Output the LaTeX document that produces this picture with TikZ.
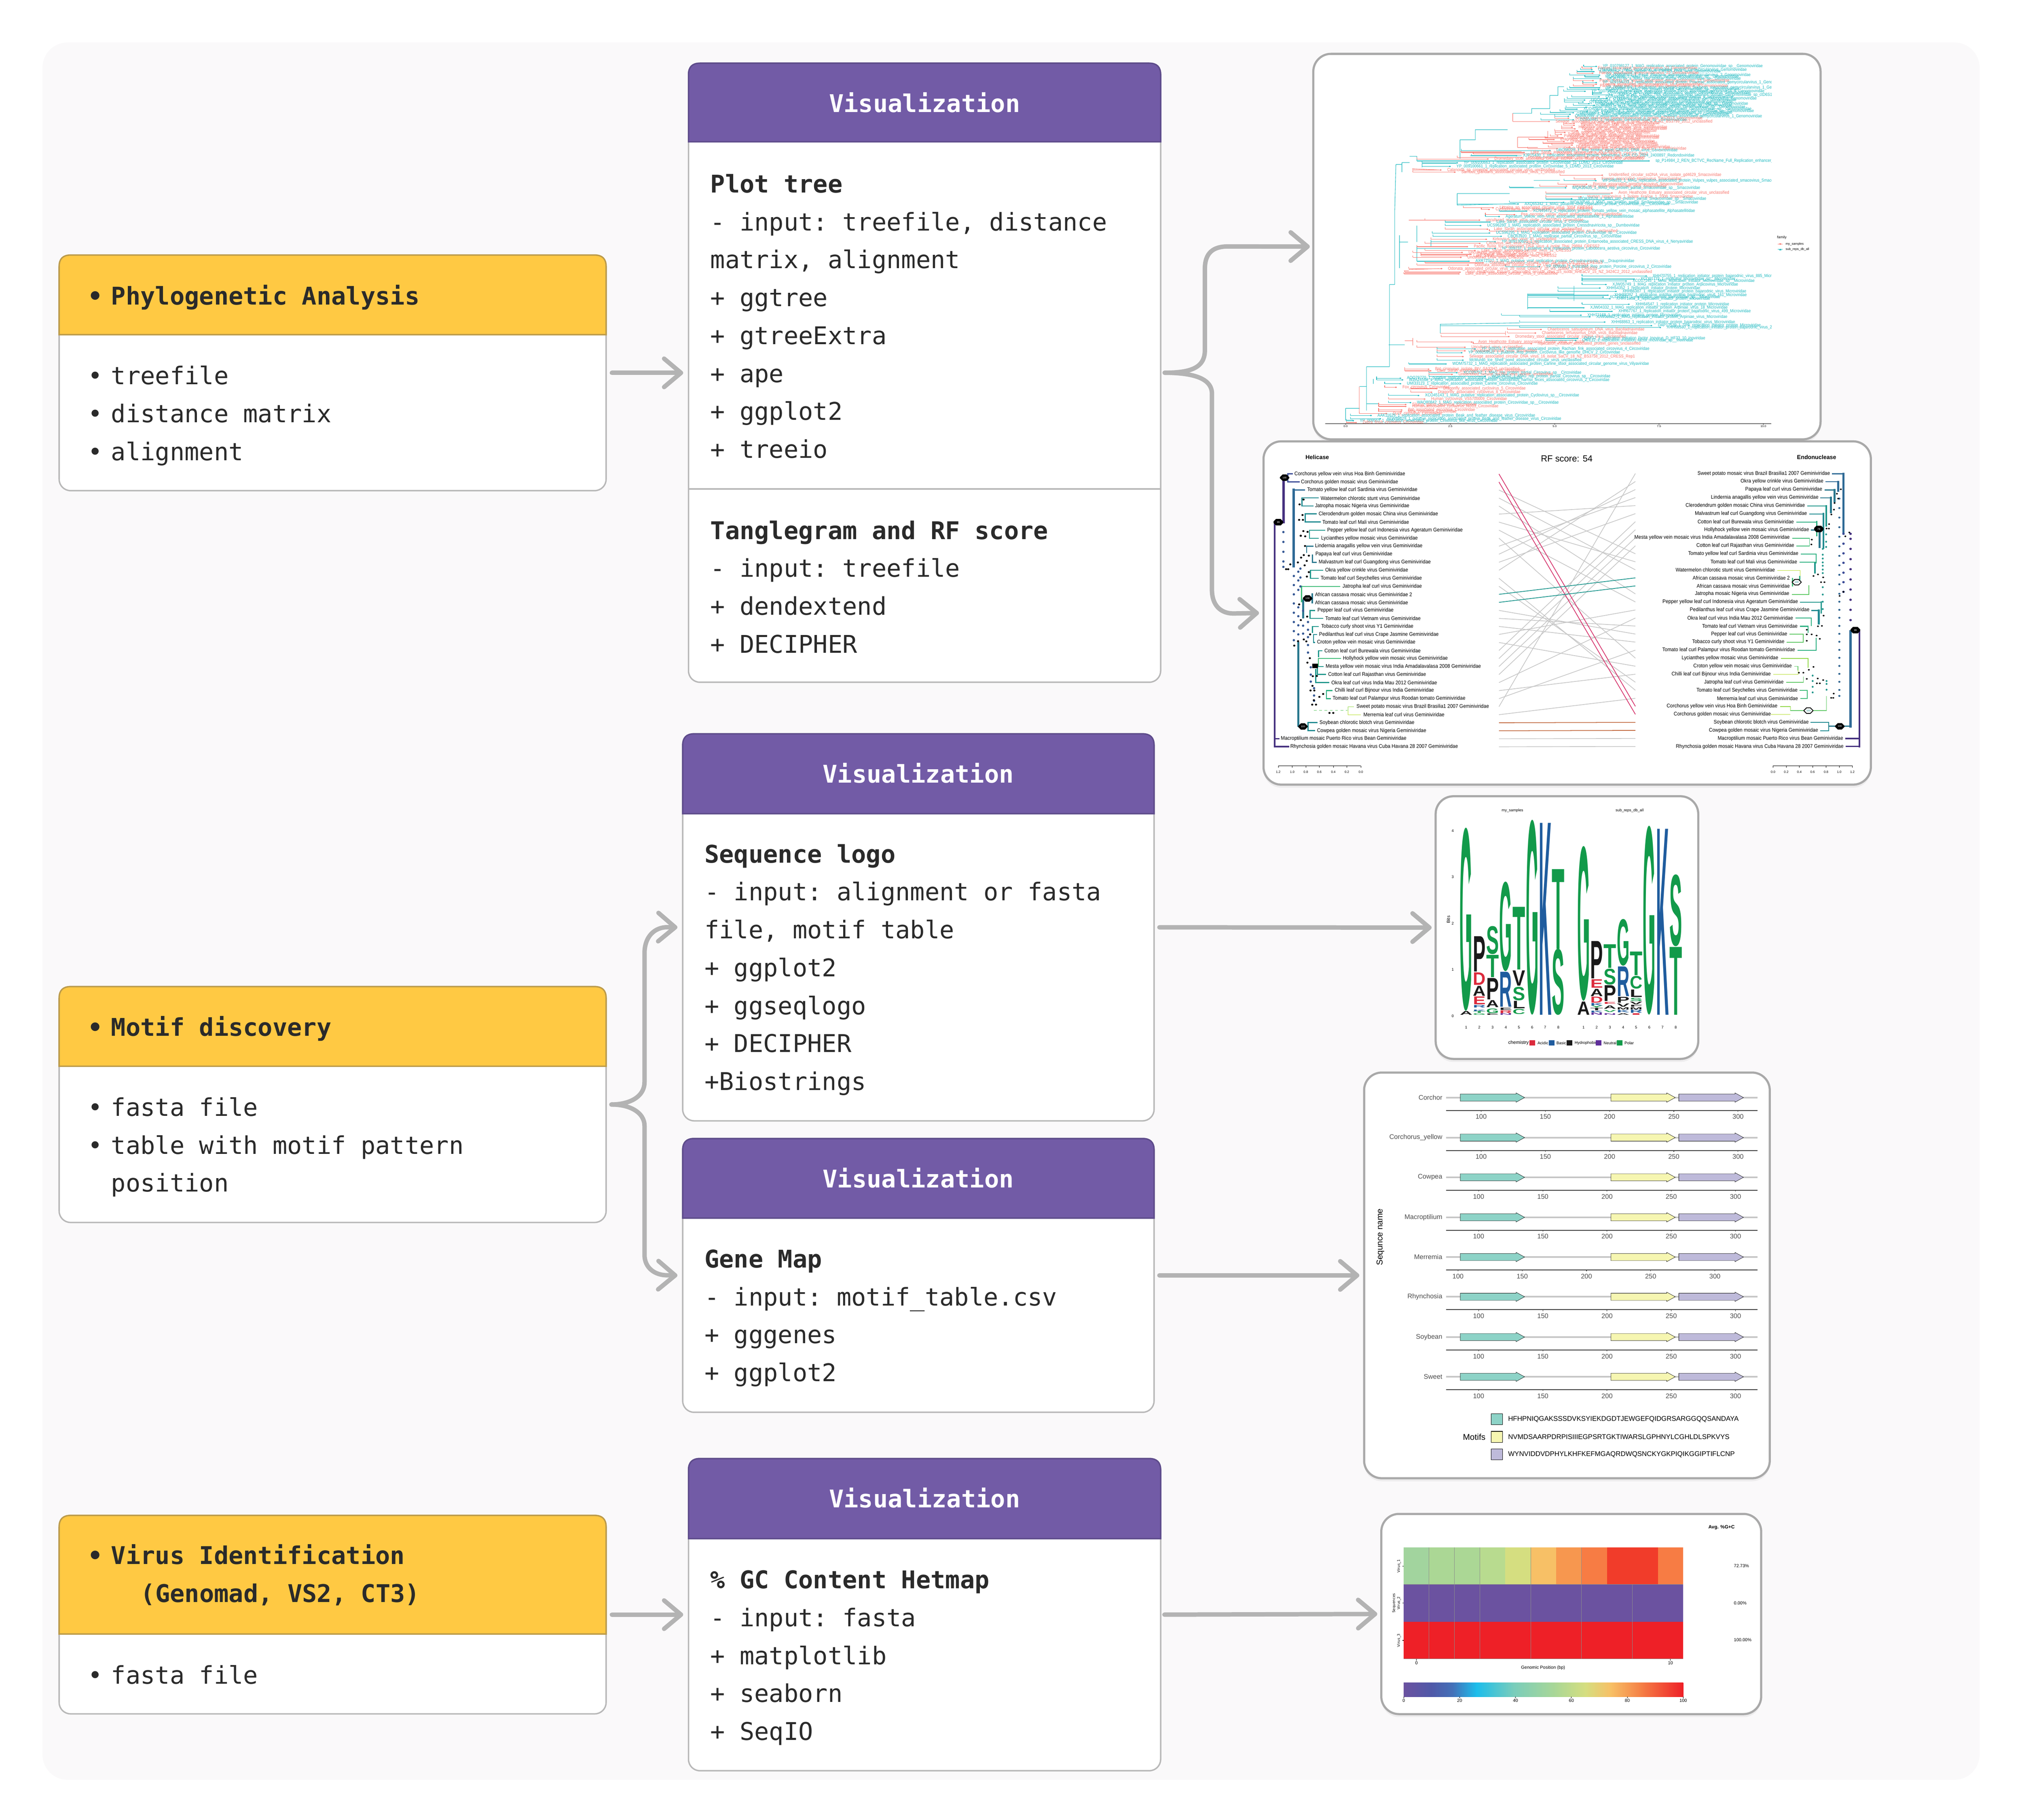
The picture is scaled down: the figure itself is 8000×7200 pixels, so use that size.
\documentclass[tikz,border=0pt]{standalone}
\usepackage{fontspec}
\usepackage{graphicx}
\setmonofont{DejaVu Sans Mono}
\setsansfont{Liberation Sans}
\newfontfamily\heatfont{DejaVu Sans}
\usetikzlibrary{arrows.meta,calc,shapes.misc}
\catcode`\_=12
\definecolor{panelbg}{HTML}{FAF9FA}
\definecolor{boxedge}{HTML}{B8B8B8}
\definecolor{cardedge}{HTML}{A9A9A9}
\definecolor{flowgrey}{HTML}{B3B3B3}
\definecolor{inkdark}{HTML}{2A2A2A}
\definecolor{headyellow}{HTML}{FFC943}
\definecolor{edgeyellow}{HTML}{BC9B4A}
\definecolor{headpurple}{HTML}{725BA6}
\definecolor{edgepurple}{HTML}{5E4C8B}
\definecolor{tt}{HTML}{1DB9C0}
\definecolor{tr}{HTML}{F8766D}
\definecolor{vp}{HTML}{45307F}
\definecolor{vn}{HTML}{3A4A96}
\definecolor{vb}{HTML}{2F6A96}
\definecolor{vm}{HTML}{2A788E}
\definecolor{vt}{HTML}{1F968B}
\definecolor{vq}{HTML}{1F8A90}
\definecolor{vg}{HTML}{29AF7F}
\definecolor{vh}{HTML}{3CBB75}
\definecolor{vl}{HTML}{5DC863}
\definecolor{vk}{HTML}{8FD744}
\definecolor{vy}{HTML}{B5DE2B}
\definecolor{linkgrey}{HTML}{C6C6C6}
\definecolor{linkpink}{HTML}{D6336C}
\definecolor{linkteal}{HTML}{1A958C}
\definecolor{linkrust}{HTML}{C0653A}
\definecolor{lr}{HTML}{DC2A3C}
\definecolor{lb}{HTML}{1F5C9E}
\definecolor{lk}{HTML}{1A1A1A}
\definecolor{ln}{HTML}{5E2D9A}
\definecolor{lg}{HTML}{129A4A}
\definecolor{geneteal}{HTML}{8DD3C7}
\definecolor{geneyellow}{HTML}{F6F6B1}
\definecolor{genepurple}{HTML}{BEBADA}
\definecolor{axisgrey}{HTML}{4D4D4D}
\definecolor{heatv}{HTML}{6B52A0}
\definecolor{heatr}{HTML}{EE2027}
\definecolor{barb}{HTML}{5059A8}
\definecolor{barc}{HTML}{4470B8}
\definecolor{bard}{HTML}{1CBDEB}
\definecolor{bare}{HTML}{79CDBB}
\definecolor{barf}{HTML}{ABD795}
\definecolor{barg}{HTML}{D5DE80}
\definecolor{barh}{HTML}{F7C066}
\definecolor{bari}{HTML}{F57F45}
\tikzset{
  flowarrow/.style={draw=flowgrey,line width=5pt,line cap=round,line join=round,
    -{Straight Barb[length=19pt,width=32pt,round]}},
  toolbox/.style={draw=boxedge,fill=white,line width=1.6pt,rounded corners=.45cm,inner sep=0pt,outer sep=0pt},
  imgcard/.style={draw=cardedge,fill=white,line width=2.4pt,rounded corners=.7cm,inner sep=0pt,outer sep=0pt,
    preaction={draw=none,fill=black,opacity=.05,transform canvas={yshift=-.12cm}}},
  yellowhead/.style={draw=edgeyellow,fill=headyellow,line width=1.6pt},
  purplehead/.style={draw=edgepurple,fill=headpurple,line width=1.6pt},
  codeline/.style={font=\ttfamily\fontsize{27.45}{30}\selectfont,text=inkdark,anchor=base west,inner sep=0pt},
  boldline/.style={codeline,font=\ttfamily\bfseries\fontsize{27.45}{30}\selectfont},
  headline/.style={font=\ttfamily\bfseries\fontsize{27.45}{30}\selectfont,anchor=base,inner sep=0pt,text=white},
  plottext/.style={font=\sffamily\fontsize{#1}{#1}\selectfont,inner sep=0pt},
  heattext/.style={font=\heatfont\fontsize{#1}{#1}\selectfont,inner sep=0pt},
  tw/.style={line width={#1*.0948pt}},
  hexblack/.style={chamfered rectangle,chamfered rectangle xsep=.07cm,chamfered rectangle ysep=.07cm,fill=black,draw=black,
    minimum width=.36cm,minimum height=.24cm,inner sep=0pt,text=white,font=\sffamily\fontsize{2.8}{2.8}\selectfont},
  hexwhite/.style={chamfered rectangle,chamfered rectangle xsep=.07cm,chamfered rectangle ysep=.07cm,fill=white,draw=black,line width=.9pt,
    minimum width=.36cm,minimum height=.22cm,inner sep=0pt,text=vq,font=\sffamily\fontsize{2.8}{2.8}\selectfont},
}
\newcommand{\cardbox}[6]{\node (#1) [#6,anchor=north west,minimum width={(#4-#2)*0.01cm},minimum height={(#5-#3)*0.01cm}] at (#2,#3) {};}
\newcommand{\headbar}[5]{\draw[#5] (#1,#4) -- (#1,#2+45) .. controls (#1,#2+15) and (#1+15,#2) .. (#1+45,#2) -- (#3-45,#2) .. controls (#3-15,#2) and (#3,#2+15) .. (#3,#2+45) -- (#3,#4) -- cycle;}
\newcommand{\blt}{\llap{•\hspace{9.4pt}}}
\newcommand{\genearrow}[4]{\filldraw[fill=#4,draw=black,line width=.3pt] (#1,#3-13) -- (#2-30,#3-13) -- (#2-30,#3-17) -- (#2,#3) -- (#2-30,#3+17) -- (#2-30,#3+13) -- (#1,#3+13) -- cycle;}
\begin{document}
\begin{tikzpicture}[x=.01cm,y=-.01cm]
  \useasboundingbox (0,0) rectangle (8000,7200);
  \fill[white] (0,0) rectangle (8000,7200);
  \fill[panelbg,rounded corners=1cm] (168,168) rectangle (7832,7041);

  % left boxes
  \cardbox{phylo}{234}{1009}{2398}{1941}{toolbox}
  \headbar{234}{1009}{2398}{1324}{yellowhead}
  \node (phylohead) [boldline] at (439,1205) {\blt Phylogenetic Analysis};
  \foreach \t [count=\i from 0] in {treefile,distance matrix,alignment}
    \node (phyloitem-\i) [codeline] at (439,{1521+\i*150}) {\blt\t};

  \cardbox{motif}{234}{3903}{2398}{4836}{toolbox}
  \headbar{234}{3903}{2398}{4218}{yellowhead}
  \node (motifhead) [boldline] at (439,4099) {\blt Motif discovery};
  \node (motifitem-0) [codeline] at (439,4415) {\blt fasta file};
  \node (motifitem-1) [codeline] at (439,4565) {\blt table with motif pattern};
  \node (motifitem-2) [codeline] at (439,4715) {position};

  \cardbox{virus}{234}{5995}{2398}{6780}{toolbox}
  \headbar{234}{5995}{2398}{6464}{yellowhead}
  \node (virushead-0) [boldline] at (439,6188) {\blt Virus Identification};
  \node (virushead-1) [boldline] at (556,6338) {(Genomad, VS2, CT3)};
  \node (virusitem) [codeline] at (439,6661) {\blt fasta file};

  % tool boxes
  \cardbox{plotbox}{2724}{250}{4592}{2699}{toolbox}
  \headbar{2724}{250}{4592}{561}{purplehead}
  \draw[draw=boxedge,line width=1.6pt] (2724,1934) -- (4592,1934);
  \node (plothead) [headline] at (3658,444) {Visualization};
  \foreach \t [count=\i from 0] in {\textbf{Plot tree},{- input: treefile, distance},{matrix, alignment},+ ggtree,+ gtreeExtra,+ ape,+ ggplot2,+ treeio}
    \node (plotline-\i) [codeline] at (2810,{762+\i*150}) {\t};
  \foreach \t [count=\i from 0] in {\textbf{Tanglegram and RF score},- input: treefile,+ dendextend,+ DECIPHER}
    \node (tangline-\i) [codeline] at (2810,{2133+\i*150}) {\t};

  \cardbox{logobox}{2701}{2903}{4566}{4434}{toolbox}
  \headbar{2701}{2903}{4566}{3219}{purplehead}
  \node (logohead) [headline] at (3633,3097) {Visualization};
  \foreach \t [count=\i from 0] in {\textbf{Sequence logo},- input: alignment or fasta,{file, motif table},+ ggplot2,+ ggseqlogo,+ DECIPHER,+Biostrings}
    \node (logoline-\i) [codeline] at (2787,{3413+\i*150}) {\t};

  \cardbox{genebox}{2701}{4504}{4566}{5587}{toolbox}
  \headbar{2701}{4504}{4566}{4819}{purplehead}
  \node (genehead) [headline] at (3633,4698) {Visualization};
  \foreach \t [count=\i from 0] in {\textbf{Gene Map},- input: motif_table.csv,+ gggenes,+ ggplot2}
    \node (geneline-\i) [codeline] at (2787,{5015+\i*150}) {\t};

  \cardbox{gcbox}{2724}{5770}{4592}{7005}{toolbox}
  \headbar{2724}{5770}{4592}{6087}{purplehead}
  \node (gchead) [headline] at (3658,5964) {Visualization};
  \foreach \t [count=\i from 0] in {\textbf{\% GC Content Hetmap},- input: fasta,+ matplotlib,+ seaborn,+ SeqIO}
    \node (gcline-\i) [codeline] at (2810,{6284+\i*150}) {\t};

  % picture cards
  \cardbox{treecard}{5196}{213}{7203}{1738}{imgcard}
  \cardbox{tanglecard}{4999}{1746}{7402}{3104}{imgcard}
  \cardbox{logocard}{5680}{3150}{6719}{4189}{imgcard}
  \cardbox{genecard}{5397}{4243}{7002}{5848}{imgcard}
  \cardbox{gccard}{5465}{5989}{6968}{6781}{imgcard}

  % connectors
  \draw[flowarrow] ($(phylo.east)+(23,0)$) -- ($(phylo.east -| plotbox.west)+(-21,0)$);
  \draw[flowarrow] ($(virus.east)+(23,0)$) -- ($(virus.east -| gcbox.west)+(-21,0)$);
  \draw[flowarrow] ($(logobox.east)+(21,0)$) -- ($(logocard.west)+(-16,0)$);
  \draw[flowarrow] ($(genebox.east)+(21,0)$) -- ($(genecard.west)+(-19,0)$);
  \draw[flowarrow] ($(gcbox.east)+(15,0)$) -- ($(gccard.west)+(-16,0)$);
  \draw[flowarrow] ($(plotbox.east)+(16,0)$) .. controls (4720,1475) and (4767,1450) .. (4767,1385) -- (4767,1064)
    .. controls (4767,1000) and (4800,975) .. (4858,975) -- ($(treecard.west)+(-14,0)$);
  \draw[flowarrow] ($(plotbox.east)+(16,0)$) .. controls (4730,1475) and (4795,1500) .. (4795,1558) -- (4795,2333)
    .. controls (4795,2395) and (4830,2427) .. (4880,2427) -- ($(tanglecard.west)+(-18,0)$);
  \draw[flowarrow] ($(motif.east)+(21,0)$) .. controls (2490,4369) and (2550,4340) .. (2550,4280) -- (2550,3771)
    .. controls (2550,3705) and (2590,3668) .. (2640,3668) -- ($(logobox.west)+(-21,0)$);
  \draw[flowarrow] ($(motif.east)+(21,0)$) .. controls (2490,4369) and (2550,4400) .. (2550,4454) -- (2550,4964)
    .. controls (2550,5015) and (2590,5045) .. (2640,5045) -- ($(genebox.west)+(-21,0)$);

  % tree plot
  \begin{scope}[shift={(5000,150)},xscale=1.594,yscale=1.084]
    \draw[black,line width=.35pt] (153,1407) -- (1260,1407);
    \foreach \tx/\tl [count=\i] in {203/0.0,463/2.5,722/5.0,981/7.5,1240/10.0}{
      \draw[black,line width=.3pt] (\tx,1407) -- (\tx,1411);
      \node (treetick-\i) [plottext=3.2] at (\tx,1418) {\tl};
    }
    \node (treefam) [plottext=4,anchor=west] at (1274,729) {family};
    \draw[tr,line width=.5pt] (1276,752) -- (1288,752);
    \fill[tr] (1282,752) circle[radius=2.5];
    \node (treefam-1) [plottext=3.6,anchor=west] at (1295,752) {my_samples};
    \draw[tt,line width=.5pt] (1276,772) -- (1288,772);
    \fill[tt] (1282,769) -- (1285,775) -- (1279,775) -- cycle;
    \node (treefam-2) [plottext=3.6,anchor=west] at (1295,772) {sub_reps_db_all};
    \clip (150,90) rectangle (1260,1407);
    \draw[tt,line width=.5pt] (203,1352) -- (203,1395) -- (222,1395) (203,1352) -- (238,1352) (238,1272) -- (255,1272)
      (255,1200) -- (255,1360) (255,1200) -- (312,1200) (272,1245) -- (272,1262) (255,1335) -- (285,1335)
      (312,900) -- (312,1200) (312,900) -- (325,900) (325,635) -- (325,900) (325,635) -- (328,462) (328,462) -- (343,462)
      (343,455) -- (343,490) (343,455) -- (362,455) (362,432) -- (380,432) (380,432) -- (380,449)
      (487,372) -- (487,440) (487,372) -- (525,372) -- (525,335) -- (605,335) (512,430) -- (640,430)
      (618,275) -- (665,275) -- (665,258) -- (710,258) -- (710,210) -- (730,210) -- (730,178) -- (745,178) (710,272) -- (750,272)
      (380,685) -- (380,745) (337,720) -- (337,840) (337,745) -- (358,745) (415,740) -- (415,760) (380,760) -- (380,815)
      (480,568) -- (480,610) (480,568) -- (610,568) (480,610) -- (625,605) (610,545) -- (670,545) (670,520) -- (735,520)
      (700,570) -- (860,570) (700,590) -- (880,590) (655,935) -- (655,990) (655,935) -- (770,935) (770,905) -- (770,960)
      (438,1045) -- (438,1078) (438,1045) -- (635,1040) (310,1120) -- (350,1120) (393,458) -- (393,472) (393,458) -- (478,458);
    \draw[tr,line width=.5pt] (237,1272) -- (237,1370) (618,275) -- (618,305) (487,415) -- (640,415) (630,362) -- (630,400)
      (630,400) -- (680,400) (630,362) -- (705,362) -- (705,340) (360,665) -- (530,665) (360,845) -- (435,842) (348,850) -- (360,850)
      (600,1070) -- (600,1085) (438,1078) -- (600,1078) (350,1105) -- (370,1105) (370,1095) -- (370,1122) (370,478) -- (435,482);
    \foreach \lx/\ly/\bs/\cc/\lt [count=\i] in {
841/104/794/tt/YP_010798127_1_MAG_replication_associated_protein_Genomoviridae_sp__Genomoviridae,
829/110/790/tr/Faeces_associated_gemycircularvirus_21_Genomoviridae,
830/116/786/tt/QTE03621_2_MAG_replication_associated_protein_Gemycircularvirus_Genomoviridae,
835/123/777/tt/UBQ66262_1_Rep_protein_finch_CRESS_DNA_virus_Genomoviridae,
832/129/777/tr/Faeces_associated_gemycircularvirus_22_Genomoviridae,
849/136/759/tt/YP_009506502_1_RepA_Pteropus_associated_gemycircularvirus_3_Genomoviridae,
847/142/797/tt/WQA29896_1_MAG_rep_protein_partial_Genomoviridae_sp__Genomoviridae,
852/149/768/tt/WQA29785_1_MAG_rep_protein_partial_Genomoviridae_sp__Genomoviridae,
833/156/768/tr/Pacific_flying_fox_faeces_associated_gemycircularvirus_13_Genomoviridae,
841/163/792/tt/YP_009164033_1_replication_associated_protein_Poaceae_associated_gemycircularvirus_1_Genomoviridae,
841/169/792/tr/Faeces_associated_gemycircularvirus_18_Genomoviridae,
834/175/768/tr/Pacific_flying_fox_faeces_associated_gemycircularvirus_4_Genomoviridae,
849/182/759/tt/YP_009819399_1_replication_associated_protein_Soybean_associated_gemycircularvirus_1_Genomoviridae,
847/188/753/tt/WQA29880_1_MAG_rep_protein_partial_Genomoviridae_sp__Genomoviridae,
813/195/744/tt/YP_010796072_1_replication_associated_protein_Finch_associated_genomovirus_6_Genomoviridae,
853/201/816/tt/QVW56468_2_MAG_replication_associated_protein_Gemykibivirus_Genomoviridae,
880/208/816/tt/AAF02148_1_MAG_TPA_Geminivirus_Rep_catalytic_domain_Genomoviridae_sp_ctD6S1_Genomoviridae,
848/215/764/tt/QGF19225_1_Rep_Tadarida_brasiliensis_gemykibivirus_1_Genomoviridae,
867/221/753/tt/QTE03623_2_MAG_replication_associated_protein_Gemykrogvirus_Genomoviridae,
812/227/746/tt/UGO47154_1_MAG_replication_associated_protein_Gemyvirus_sp__Genomoviridae,
808/234/746/tt/QTE28052_1_MAG_replication_associated_protein_Gemykolovirus_Genomoviridae,
823/240/781/tt/OXN75680_1_MAG_replication_associated_protein_Genomoviridae_sp__Genomoviridae,
836/246/768/tt/WWV21770_1_MAG_replicase_protein_Genomoviridae_sp__Genomoviridae,
816/253/750/tt/OXN77487_1_MAG_replication_associated_protein_Genomoviridae_sp__Genomoviridae,
793/260/748/tt/XCO47910_1_MAG_putative_replication_associated_protein_Genomoviridae_sp__Genomoviridae,
819/267/735/tt/YP_010788574_1_MAG_replication_associated_protein_Genomoviridae_sp__Genomoviridae,
784/273/711/tt/OXN75683_1_MAG_replication_associated_protein_Genomoviridae_sp__Genomoviridae,
776/279/687/tt/OXN75689_1_MAG_replication_associated_protein_Genomoviridae_sp__Genomoviridae,
772/286/722/tt/QNR80399_1_replication_associated_protein_Gila_monster_associated_gemycircularvirus_1_Genomoviridae,
772/293/722/tr/Sewage_associated_gemycircularvirus_4_isolate_BS3913_Genomoviridae,
784/299/688/tt/OZS00441_1_replication_Genomoviridae_sp__Genomoviridae,
724/305/618/tr/Sewage_associated_circular_DNA_virus_4_isolat_SaCV_4_NZ_BS3799_2012_unclassified,
786/312/744/tr/Jatropha_mosaic_Nigeria_virus_Geminiviridae,
786/319/744/tr/Tomato_leaf_curl_Mali_virus_Geminiviridae,
781/326/739/tr/Hollyhock_yellow_vein_mosaic_virus_Geminiviridae,
788/332/739/tr/Tomato_leaf_curl_Seychelles_virus_Geminiviridae,
794/339/722/tr/Solanum_yellow_vein_virus_Geminiviridae,
763/345/723/tr/Sida_golden_yellow_vein_virus_Geminiviridae,
754/352/723/tr/Tomato_leaf_distortion_virus_Geminiviridae,
745/358/711/tr/Passionfruit_severe_leaf_distortion_virus_Geminiviridae,
758/365/698/tr/Jacquemontia_mosaic_Yucatan_virus_Geminiviridae,
736/371/658/tr/Eragrostis_curvula_streak_virus_Geminiviridae,
761/378/704/tr/Dragonfly_associated_mastrevirus_Geminiviridae,
783/384/693/tr/Sugarcane_streak_virus_Natal_Geminiviridae,
781/391/715/tr/Paspalum_striate_mosaic_virus_Geminiviridae,
775/398/706/tr/Digitaria_didactyla_striate_mosaic_virus_Geminiviridae,
744/404/655/tr/French_bean_severe_leaf_curl_virus_isolate_FbSLCV_1_Geminiviridae,
726/411/490/tt/UBQ66228_1_Rep_protein_egret_GRESS_DNA_virus_Genomoviridae,
662/418/490/tr/Lake_Sarah_associated_circular_virus_45_CRESS6,
728/423/520/tr/Odonata_associated_circular_virus_8_CRESS_Rec2,
643/430/515/tt/XJP15430_1_replication_associated_protein_Vientovirus_USA_CO_2024_2400897_Redondoviridae,
656/437/480/tr/Porcine_serum_associated_circular_virus_isolate_BKG_unclassified,
572/442/380/tr/Dromedary_stool_associated_circular_ssDNA_virus_isolat_DeSCV_c1400_unclassified,
972/449/380/tt/sp_P14984_2_REN_BCTVC_RecName_Full_Replication_enhancer_Sp,
496/456/393/tt/YP_009100663_1_replication_associated_protein_Circoviridae_11_LDMD_2013_Circoviridae,
478/469/393/tt/YP_009100661_1_replication_associated_protein_Circoviridae_5_LDMD_2013_Circoviridae,
455/482/370/tr/Calanoida_sp_copepod_associated_circular_virus_unclassified,
490/490/370/tr/Sambus_glandaris_associated_circular_virus_1_unclassified,
856/501/735/tr/Unidentified_circular_ssDNA_virus_isolate_gd4629_Smacoviridae,
838/515/770/tr/Faeces_associated_smacovirus_Smacoviridae,
840/521/745/tt/WFS48533_1_MAG_replication_associated_protein_Vulpes_vulpes_associated_smacovirus_Smacoviridae,
817/534/730/tr/Porcine_associated_porprismacovirus_Smacoviridae,
767/541/685/tr/Porcine_stool_associated_circular_virus_Smacoviridae,
765/547/610/tt/WQA30435_1_MAG_rep_protein_partial_Smacoviridae_sp__Smacoviridae,
880/566/700/tr/Avon_Heathcote_Estuary_associated_circular_virus_unclassified,
803/580/700/tr/Human_smacovirus_1_isolate_France_1_2008_Smacoviridae,
780/587/700/tt/WQA30524_1_MAG_rep_protein_partial_Smacoviridae_sp__Smacoviridae,
760/600/610/tt/WQA30546_1_MAG_rep_protein_partial_Smacoviridae_sp__Smacoviridae,
647/606/480/tt/AXQ65342_1_MAG_putative_viral_replication_protein_Circoviridae_sp__Circoviridae,
585/620/495/tr/Littorina_sp_associated_circular_virus_3004_CRESS3,
575/626/540/tr/Cyclophragma_host_associated_circular_virus_CRESS3,
668/632/585/tt/XCN45472_1_replication_protein_Tomato_yellow_vein_mosaic_alphasatellite_Alphasatellitidae,
638/645/550/tr/Pea_necrotic_yellow_dwarf_alphasatellite_Alphasatellitidae,
600/652/550/tt/Ageratum_yellow_vein_virus_associated_alphasatellite_1_Alphasatellitidae,
551/665/400/tr/uncultured_marine_virus_clone_GOM03043_Circoviridae,
577/672/450/tt/Lake_Sarah_associated_circular_virus_2_Circoviridae,
554/685/450/tt/UCS96280_1_MAG_replication_associated_protein_Cressdnaviricota_sp__Dumboviridae,
571/698/450/tr/Lake_Sarah_associated_circular_virus_unclassified,
680/705/560/tr/Hypothetical_CRESS_virus_sp_B_unclassified,
576/712/418/tt/UCS96295_1_MAG_replication_associated_protein_Circoviridae_sp__Circoviridae,
605/724/420/tt/CBQ63920_1_MAG_replicase_partial_Circovirus_sp__Circoviridae,
568/735/415/tr/Kirkovirus_like_virus_41_unclassified,
590/744/415/tt/YP_009130601_1_replication_associated_protein_Entamoeba_associated_CRESS_DNA_virus_4_Nenyaviridae,
552/750/400/tr/Circovirus_like_virus_CRESS2,
521/762/380/tr/Pacific_flying_fox_associated_DNA_virus_4_isolat_Thai_29884_CRESS2,
590/769/380/tt/YP_009237_1_putative_viral_replication_protein_Labidocera_aestiva_circovirus_Circoviridae,
540/776/400/tr/Lake_Sarah_associated_circular_virus_12_CRESS3,
508/783/370/tr/Uncultured_marine_virus_CRESS3,
530/790/390/tr/Circovirus_like_circular_virus_12_CRESS3,
520/795/390/tr/Lake_Sarah_associated_circular_virus_CRESS2,
505/801/370/tr/Uncultured_DNA_virus_CRESS2,
525/815/380/tt/AXR72327_1_MAG_putative_viral_replication_protein_Cressdnaviricota_sp__Draupnirviridae,
560/821/400/tr/Odonata_associated_circular_virus_20_isolat_US_2012_CRESS3,
523/829/380/tr/Odonata_associated_circular_virus_10_US_71BD_5_12_CRESS3,
700/835/600/tt/YP_009000_1_truncated_Rep_protein_Porcine_circovirus_2_Circoviridae,
457/842/360/tr/Odonata_associated_circular_virus_20_isolat_OdasCV_20_US_1180D_5_12_CRESS3,
503/855/350/tr/Avon_Heathcote_Estuary_associated_circular_virus_15_isolat_AHEaCV_15_NZ_3424C2_2012_unclassified,
500/861/348/tr/Lake_Sarah_associated_circular_virus_3_unclassified,
965/869/790/tt/XHH70755_1_replication_initiator_protein_bajarodnic_virus_885_Microviridae,
935/880/790/tt/XCO01733_1_replicase_Microviridae_sp__Microviridae,
915/887/790/tt/XCO17145_1_MAG_replication_initiator_Microviridae_sp__Microviridae,
865/900/790/tt/XJW05749_1_MAG_replication_initiator_protein_Arpicovirus_Microviridae,
850/913/730/tt/XHH54352_1_replication_initiator_protein_Microviridae,
890/925/730/tt/XHH86387_1_replication_initiator_protein_bajarodnic_virus_Microviridae,
870/939/655/tt/XHH88387_1_replication_initiator_protein_bajarodnic_virus_161_Microviridae,
858/946/655/tt/XCO45921_1_replication_protein_Microviridae_sp__Microviridae,
875/952/730/tt/XHH71909_1_replication_initiator_protein_Microviridae,
922/972/790/tt/XHH64547_1_replication_initiator_protein_Microviridae,
810/985/655/tt/XJW04332_1_MAG_replication_initiator_protein_Arpiniae_virus_18_Microviridae,
880/998/710/tt/XHH67767_1_replication_initiator_protein_bajarodnic_virus_499_Microviridae,
803/1012/590/tt/XHH71168_1_replication_initiator_protein_Microviridae,
825/1018/635/tt/XJW06862_1_MAG_replication_initiator_protein_Arpiniae_virus_Microviridae,
862/1037/635/tt/XHH68863_1_replication_initiator_protein_bajarodnic_virus_Microviridae,
978/1050/438/tt/DAP17539_1_TPA_replication_initiator_protein_Microviridae,
1000/1057/635/tt/XHH65530_1_replication_initiator_protein_bajarodnic_virus_22,
704/1064/605/tr/Chaetoceros_salsugineum_DNA_virus_Bacilladnaviridae,
690/1077/605/tr/Chaetoceros_tenuissimus_DNA_virus_Bacilladnaviridae,
624/1090/440/tr/Dromedary_stool_associated_circular_ssDNA_virus_unclassified,
795/1097/700/tt/QAY17_1_replication_initiation_factor_Inovirus_D_HF33_10_Inoviridae,
790/1104/700/tt/QWE12_1_replication_initiation_factor_Inoviridae_sp__Inoviridae,
532/1110/380/tr/Avon_Heathcote_Estuary_associated_circular_virus_12_isolat,
680/1116/520/tr/replication_initiation_associated_protein_genes_unclassified,
515/1129/380/tr/Uncultured_virus_unclassified,
540/1135/430/tt/YP_009252_1_replication_associated_protein_Rachian_fink_associated_circovirus_4_Circoviridae,
515/1142/430/tr/Uncultured_circular_virus_unclassified,
507/1149/430/tt/YP_009259532_1_putative_Rep_protein_Circovirus_like_genome_DHCV_2_Circoviridae,
510/1163/430/tr/Sewage_associated_circular_DNA_virus_16_isolat_SaCV_18_NZ_BS3758_2012_CRESS_Rep1,
510/1176/430/tt/McMurdo_Ice_Shelf_pond_associated_circular_virus_unclassified,
468/1190/360/tt/WDM75732_1_MAG_replication_associated_protein_Canine_stool_associated_circular_genome_virus_Vilyaviridae,
425/1209/350/tr/Bat_circovirus_isolate_BtV_SA32H7_unclassified,
430/1215/350/tr/Lake_Sarah_associated_circular_virus_unclassified,
495/1222/410/tt/XCO29702_1_MAG_rep_protein_partial_Circovirus_sp__Circoviridae,
483/1228/410/tr/Unidentified_circular_ssDNA_virus_isolate_unclassified,
565/1235/410/tt/WQA29702_1_MAG_rep_protein_partial_Circovirus_sp__Circoviridae,
355/1242/280/tt/AOQ79770_1_putative_replication_associated_protein_Circoviridae,
360/1248/280/tt/WZA24568_1_MAG_replication_associated_protein_Sarcophilus_harrisii_feces_associated_circovirus_2_Circoviridae,
355/1262/300/tt/UMI33123_1_replication_associated_protein_Canine_circovirus_Circoviridae,
344/1275/300/tr/Fox_circovirus_Circoviridae,
445/1280/365/tr/Dragonfly_associated_cyclovirus_5_Circoviridae,
432/1293/365/tr/Dragonfly_associated_cyclovirus_8_Circoviridae,
400/1305/310/tt/XCO45143_1_MAG_putative_replication_associated_protein_Cyclovirus_sp__Circoviridae,
415/1318/310/tr/Human_cyclovirus_VS5700009_Circoviridae,
380/1331/310/tt/WAQ80842_1_MAG_replication_associated_protein_Circoviridae_sp__Circoviridae,
368/1338/285/tr/Silurus_glanis_circovirus_Circoviridae,
368/1345/285/tr/Human_associated_cyclovirus_NG13_Circoviridae,
358/1358/285/tr/Bat_associated_circovirus_Circoviridae,
357/1364/285/tr/Mink_circovirus_Circoviridae,
320/1371/237/tr/Duck_circovirus_Circoviridae,
282/1378/215/tt/AAK11629_1_replication_associated_protein_Beak_and_feather_disease_virus_Circoviridae,
305/1390/215/tt/AEW88629_1_putative_replication_associated_protein_Beak_and_feather_disease_virus_Circoviridae,
238/1397/205/tt/YP_009553_1_replication_associated_protein_Circovirus_like_virus_Circoviridae,
245/1404/205/tr/Zebra_finch_circovirus_Circoviridae%
    }{
      \draw[\cc,line width=.55pt] (\bs,\ly) -- (\lx-16,\ly) (\bs,\ly-6.5) -- (\bs,\ly);
      \fill[\cc] (\lx-16,\ly) circle[radius=2.2];
      \node (treelab-\i) [plottext=4.9,anchor=west,text=\cc] at (\lx,\ly) {\scalebox{.88}[1]{\lt}};
    }
  \end{scope}

  % tanglegram
  \begin{scope}[shift={(4950,1700)},xscale=1.626,yscale=.9567]
    \node (tanglehel) [plottext=6.5,font=\sffamily\bfseries\fontsize{6.5}{6.5}\selectfont] at (161,113) {Helicase};
    \node (tanglerf) [plottext=10] at (768,120) {RF score: 54};
    \node (tangleend) [plottext=6.5,font=\sffamily\bfseries\fontsize{6.5}{6.5}\selectfont] at (1376,113) {Endonuclease};
    \foreach \la/\ra in {3/11,4/13,5/16,6/5,7/12,8/17,9/24,10/4,11/3,12/6,13/2,14/28,15/27,18/21,19/20,20/22,21/18,22/25,23/7,24/8,25/9,26/10,27/19,28/26,29/23,30/1,31/29,34/34,35/35}
      \draw[linkgrey,line width=.75pt] (603,{183+(\la-1)*33.18}) -- (935,{181+(\ra-1)*33.2});
    \foreach \la/\ra/\cc in {1/30/linkpink,2/31/linkpink,16/14/linkteal,17/15/linkteal,32/32/linkrust,33/33/linkrust}
      \draw[\cc,line width=.8pt] (603,{183+(\la-1)*33.18}) -- (935,{181+(\ra-1)*33.2});
    \foreach \sx/\st [count=\i from 0] in {105/Corchorus yellow vein virus  Hoa Binh Geminiviridae,121/Corchorus golden mosaic virus Geminiviridae,136/Tomato yellow leaf curl Sardinia virus Geminiviridae,169/Watermelon chlorotic stunt virus Geminiviridae,155/Jatropha mosaic Nigeria virus Geminiviridae,164/Clerodendrum golden mosaic China virus Geminiviridae,173/Tomato leaf curl Mali virus Geminiviridae,185/Pepper yellow leaf curl Indonesia virus Ageratum Geminiviridae,170/Lycianthes yellow mosaic virus Geminiviridae,155/Lindernia anagallis yellow vein virus Geminiviridae,156/Papaya leaf curl virus Geminiviridae,164/Malvastrum leaf curl Guangdong virus Geminiviridae,180/Okra yellow crinkle virus Geminiviridae,169/Tomato leaf curl Seychelles virus Geminiviridae,222/Jatropha leaf curl virus Geminiviridae,155/African cassava mosaic virus Geminiviridae 2,155/African cassava mosaic virus Geminiviridae,161/Pepper leaf curl virus Geminiviridae,180/Tomato leaf curl Vietnam virus Geminiviridae,170/Tobacco curly shoot virus  Y1 Geminiviridae,165/Pedilanthus leaf curl virus Crape Jasmine Geminiviridae,160/Croton yellow vein mosaic virus Geminiviridae,178/Cotton leaf curl Burewala virus Geminiviridae,223/Hollyhock yellow vein mosaic virus Geminiviridae,181/Mesta yellow vein mosaic virus India Amadalavalasa 2008 Geminiviridae,187/Cotton leaf curl Rajasthan virus Geminiviridae,195/Okra leaf curl virus India Mau 2012 Geminiviridae,203/Chilli leaf curl Bijnour virus India Geminiviridae,198/Tomato leaf curl Palampur virus Roodan tomato Geminiviridae,256/Sweet potato mosaic virus  Brazil Brasilia1 2007 Geminiviridae,273/Merremia leaf curl virus Geminiviridae,166/Soybean chlorotic blotch virus Geminiviridae,160/Cowpea golden mosaic virus Nigeria Geminiviridae,72/Macroptilium mosaic Puerto Rico virus Bean Geminiviridae,95/Rhynchosia golden mosaic Havana virus Cuba Havana 28 2007 Geminiviridae}
      \node (helic-\i) [plottext=5.9,anchor=west] at (\sx,{183+\i*33.18}) {\scalebox{.92}[1]{\st}};
    \foreach \sx/\st [count=\i from 0] in {1409/Sweet potato mosaic virus  Brazil Brasilia1 2007 Geminiviridae,1393/Okra yellow crinkle virus Geminiviridae,1390/Papaya leaf curl virus Geminiviridae,1381/Lindernia anagallis yellow vein virus Geminiviridae,1348/Clerodendrum golden mosaic China virus Geminiviridae,1353/Malvastrum leaf curl Guangdong virus Geminiviridae,1321/Cotton leaf curl Burewala virus Geminiviridae,1358/Hollyhock yellow vein mosaic virus Geminiviridae,1311/Mesta yellow vein mosaic virus India Amadalavalasa 2008 Geminiviridae,1322/Cotton leaf curl Rajasthan virus Geminiviridae,1332/Tomato yellow leaf curl Sardinia virus Geminiviridae,1329/Tomato leaf curl Mali virus Geminiviridae,1275/Watermelon chlorotic stunt virus Geminiviridae,1311/African cassava mosaic virus Geminiviridae 2,1311/African cassava mosaic virus Geminiviridae,1310/Jatropha mosaic Nigeria virus Geminiviridae,1331/Pepper yellow leaf curl Indonesia virus Ageratum Geminiviridae,1359/Pedilanthus leaf curl virus Crape Jasmine Geminiviridae,1319/Okra leaf curl virus India Mau 2012 Geminiviridae,1330/Tomato leaf curl Vietnam virus Geminiviridae,1305/Pepper leaf curl virus Geminiviridae,1298/Tobacco curly shoot virus  Y1 Geminiviridae,1324/Tomato leaf curl Palampur virus Roodan tomato Geminiviridae,1283/Lycianthes yellow mosaic virus Geminiviridae,1316/Croton yellow vein mosaic virus Geminiviridae,1265/Chilli leaf curl Bijnour virus India Geminiviridae,1296/Jatropha leaf curl virus Geminiviridae,1330/Tomato leaf curl Seychelles virus Geminiviridae,1331/Merremia leaf curl virus Geminiviridae,1281/Corchorus yellow vein virus  Hoa Binh Geminiviridae,1265/Corchorus golden mosaic virus Geminiviridae,1357/Soybean chlorotic blotch virus Geminiviridae,1380/Cowpea golden mosaic virus Nigeria Geminiviridae,1441/Macroptilium mosaic Puerto Rico virus Bean Geminiviridae,1442/Rhynchosia golden mosaic Havana virus Cuba Havana 28 2007 Geminiviridae}
      \node (endon-\i) [plottext=5.9,anchor=east] at (\sx,{181+\i*33.2}) {\scalebox{.92}[1]{\st}};
    \draw[black,line width=.3pt] (66,1390) -- (267,1390) (1270,1390) -- (1463,1390);
    \foreach \tx/\tl [count=\i] in {66/1.2,100/1.0,133/0.8,166/0.6,200/0.4,233/0.2,267/0.0}{
      \draw[black,line width=.3pt] (\tx,1390) -- (\tx,1398);
      \node (heltick-\i) [plottext=3.6] at (\tx,1415) {\tl};
    }
    \foreach \tx/\tl [count=\i] in {1270/0.0,1302/0.2,1334/0.4,1366/0.6,1399/0.8,1431/1.0,1463/1.2}{
      \draw[black,line width=.3pt] (\tx,1390) -- (\tx,1398);
      \node (endtick-\i) [plottext=3.6] at (\tx,1415) {\tl};
    }
  \end{scope}

  % helicase tree
  \begin{scope}[shift={(5020,1850)},xscale=.3333,yscale=.7653]
    \draw[vp,tw=18] (70,282) -- (70,1442) -- (240,1442);
    \draw[vp,tw=18] (70,1401) -- (125,1401);
    \draw[vp,tw=32] (175,60) -- (175,288);
    \draw[vn,tw=14] (285,32) -- (225,32) -- (225,73) -- (365,73);
    \draw[vb,tw=14] (430,115) -- (295,115);
    \draw[vb,tw=28] (297,109) -- (297,515);
    \draw[vq,tw=12] (595,156) -- (393,156) -- (393,198) -- (530,198);
    \draw[vq,tw=12] (570,239) -- (432,239) -- (432,281) -- (615,281);
    \draw[vt,tw=12] (668,323) -- (483,323) -- (483,365) -- (595,365);
    \draw[vm,tw=12] (530,406) -- (448,406) -- (448,440);
    \draw[vm,tw=14] (520,448) -- (520,489) -- (570,489);
    \draw[vt,tw=12] (645,531) -- (495,531) -- (495,572) -- (595,572);
    \draw[vh,tw=10] (845,614) -- (388,614);
    \draw[vh,tw=16] (388,610) -- (388,695);
    \draw[vm,tw=22] (515,650) -- (515,702);
    \draw[vm,tw=22] (408,680) -- (408,780);
    \draw[vt,tw=12] (550,738) -- (490,738) -- (490,779) -- (645,779);
    \draw[vt,tw=12] (595,821) -- (518,821) -- (518,855);
    \draw[vq,tw=12] (575,863) -- (530,863) -- (530,904) -- (550,904);
    \draw[vm,tw=26] (350,900) -- (350,1340);
    \draw[vq,tw=14] (580,1318) -- (467,1318) -- (467,1360) -- (548,1360);
    \draw[vt,tw=12] (635,946) -- (590,946) -- (590,980);
    \draw[vh,tw=10] (855,987) -- (590,987) -- (590,1025);
    \draw[vt,tw=12] (650,1028) -- (575,1028) -- (575,1069) -- (680,1069);
    \draw[vt,tw=14] (555,1040) -- (555,1111) -- (718,1111);
    \draw[vg,tw=12] (755,1152) -- (685,1152) -- (685,1194) -- (735,1194);
    \draw[vl,tw=3,dashed] (535,1255) -- (935,1255);
    \draw[vk,tw=8] (940,1235) -- (940,1255);
    \draw[vk,tw=3] (940,1235) -- (1010,1235);
    \draw[vy,tw=2] (940,1255) -- (940,1277) -- (1090,1277);
    \foreach \dx/\dy in {173/333,173/384,173/435,173/485,173/513,297/560,297/607,297/655,297/702,297/750,297/798,297/845,297/892,350/538,350/583,350/632,350/722,350/768,350/815,350/862,375/522,375/568,375/614,407/740,407/817,407/858,465/798,465/838,465/876,465/917,465/956,498/1032,498/1070,498/1106,537/1140,537/1178,537/1205}
      \fill[vn!70!vm] (\dx,\dy) ellipse[x radius=14,y radius=6];
    \foreach \dx/\dy in {345/490,383/465,255/500,205/525,230/525,410/328,378/352,432/355,460/332,450/482,425/505,475/455,415/452,445/898,415/888,490/862,347/897,302/920,360/707,380/788,455/770,458/1008,487/985,522/1078,570/1077,560/1225,515/1225,535/1202,495/1152,540/1152,600/1185,645/1170,518/1128,400/245,360/270,405/270,365/190,412/165,430/405,380/352,475/540,452/563,720/1268,765/1268}
      \fill[black] (\dx,\dy) ellipse[x radius=13,y radius=5];
    \node (helhex-1) [hexblack] at (187,52) {100};
    \node (helhex-2) [hexblack] at (113,282) {99};
    \node (helhex-3) [hexblack] at (460,676) {100};
    \node (helhex-4) [hexblack] at (405,1338) {100};
    \node (helhex-5) [hexblack,minimum width=.2cm,minimum height=.16cm,chamfered rectangle xsep=.04cm,chamfered rectangle ysep=.04cm] at (548,1024) {};
  \end{scope}

  % endonuclease tree
  \begin{scope}[shift={(6900,1850)},xscale=.3333,yscale=.7653]
    \draw[vb,tw=14] (1045,32) -- (1185,32);
    \draw[vb,tw=24] (1181,26) -- (1181,342);
    \draw[vb,tw=12] (965,73) -- (1120,73);
    \draw[vb,tw=24] (1118,68) -- (1118,125);
    \draw[vm,tw=12] (955,115) -- (1075,115);
    \draw[vm,tw=24] (1073,110) -- (1073,180);
    \draw[vm,tw=12] (905,156) -- (1033,156);
    \draw[vm,tw=22] (1031,151) -- (1031,235);
    \draw[vt,tw=10] (750,198) -- (975,198);
    \draw[vt,tw=18] (975,193) -- (975,305);
    \draw[vq,tw=10] (775,239) -- (942,239);
    \draw[vq,tw=18] (942,234) -- (942,420);
    \draw[vg,tw=10] (620,281) -- (865,281);
    \draw[vg,tw=16] (865,276) -- (865,355);
    \draw[vm,tw=12] (795,322) -- (860,322);
    \draw[vm,tw=22] (898,330) -- (898,415);
    \draw[vh,tw=8] (575,365) -- (778,365) -- (778,405) -- (622,405);
    \draw[vg,tw=10] (675,447) -- (855,447) -- (855,495) (660,488) -- (855,488);
    \draw[vt,tw=16] (842,490) -- (842,548);
    \draw[vy,tw=2] (397,530) -- (665,530) -- (665,560);
    \draw[vg,tw=12] (663,560) -- (663,590);
    \draw[vh,tw=12] (575,570) -- (575,615);
    \draw[vl,tw=10] (568,655) -- (768,655) -- (768,608);
    \draw[vt,tw=10] (665,696) -- (915,696);
    \draw[vt,tw=16] (915,692) -- (915,755);
    \draw[vq,tw=12] (800,738) -- (888,738);
    \draw[vq,tw=20] (888,733) -- (888,810);
    \draw[vg,tw=10] (610,778) -- (797,778) -- (797,818);
    \draw[vg,tw=10] (665,820) -- (762,820) -- (762,855);
    \draw[vl,tw=8] (540,861) -- (702,861) -- (702,903) -- (508,903);
    \draw[vg,tw=10] (635,945) -- (855,945) -- (855,880);
    \draw[vk,tw=8] (440,986) -- (760,986) -- (760,1035);
    \draw[vl,tw=8] (595,1027) -- (642,1027) -- (642,1050);
    \draw[vy,tw=2] (350,1068) -- (640,1068) -- (640,1045);
    \draw[vl,tw=8] (503,1110) -- (705,1110) -- (705,1080);
    \draw[vh,tw=10] (662,1152) -- (750,1152) -- (750,1193) -- (668,1193);
    \draw[vk,tw=5] (428,1235) -- (550,1235) -- (550,1256);
    \draw[vl,tw=6] (550,1256) -- (980,1256) -- (980,1180);
    \draw[vy,tw=2] (320,1276) -- (550,1276);
    \draw[vq,tw=10] (790,1316) -- (1005,1316) -- (1005,1360) -- (905,1360);
    \draw[vm,tw=14] (1005,1337) -- (1265,1337);
    \draw[vb,tw=26] (1265,840) -- (1265,1343);
    \draw[vp,tw=18] (1200,1400) -- (1370,1400) (1205,1441) -- (1370,1441);
    \draw[vp,tw=20] (1370,835) -- (1370,1447);
    \draw[vp,tw=14] (1265,840) -- (1370,840);
    \foreach \dx in {160,209,258,308,357,407,456,505,554,603,652,693,735,776,818,859,900,942,983,1025,1066,1107,1149,1180}
      \fill[vm!60!vn] (1132,\dx) ellipse[x radius=13,y radius=5];
    \foreach \dx in {342,393,443,492,543,592,642}
      \fill[vn] (1181,\dx) ellipse[x radius=15,y radius=6];
    \foreach \dx in {342,368,420,473,525,578,630,683,735,788}
      \fill[vp] (1265,\dx) ellipse[x radius=15,y radius=6];
    \foreach \dx/\dy in {935/420,935/450,935/470,935/490,935/507,935/527,935/545,935/618,935/656,935/693,935/731,975/345,975/383,975/410,815/1075,815/1103,815/1133,815/1162,980/1103,980/1118,980/1148}
      \fill[vt] (\dx,\dy) ellipse[x radius=11,y radius=5];
    \foreach \dx/\dy in {1150/112,1103/135,1118/160,1075/183,1068/217,1037/242,1010/292,980/315,1008/315,1180/642,1135/663,1203/355,1250/335,1065/1168,1035/1190,1060/1190,875/1090,900/1115,940/1098,865/1115,940/567,915/592,955/592,825/560,878/552,800/397,805/372,925/818,878/820,945/765,900/885,862/868,745/895,745/862,652/1060,705/1060,745/1092,825/1030,770/1045,745/838,803/862}
      \fill[black] (\dx,\dy) ellipse[x radius=11,y radius=4];
    \node (endhex-1) [hexblack] at (888,317) {78};
    \node (endhex-2) [hexwhite] at (625,592) {100};
    \node (endhex-3) [hexwhite] at (765,1256) {100};
    \node (endhex-4) [hexblack] at (1137,1337) {100};
    \node (endhex-5) [hexblack] at (1322,840) {99};
  \end{scope}

  % sequence logo
  \begin{scope}[shift={(5600,3100)},xscale=.8292,yscale=.7337]
    \node (logot-1) [plottext=4.3] at (463,146) {my_samples};
    \node (logot-2) [plottext=4.3] at (1022,146) {sub_reps_db_all};
    \node (logobits) [plottext=5,rotate=90] at (157,733) {Bits};
    \foreach \yt/\yl in {254/4,503/3,753/2,1003/1,1253/0}
      \node (logoy-\yl) [plottext=4.3] at (178,\yt) {\yl};
    \foreach \xt [count=\i] in {242,305,368,431,494,557,619,682}
      \node (logoxa-\i) [plottext=4.3] at (\xt,1315) {\i};
    \foreach \xt [count=\i] in {802,865,928,991,1053,1116,1179,1242}
      \node (logoxb-\i) [plottext=4.3] at (\xt,1315) {\i};
    \foreach \lx/\yt/\yb/\ch/\cc [count=\i] in {
      242/1228/1248/A/lk,242/257/1228/G/lg,
      305/1240/1248/G/lg,305/1229/1238/T/lg,305/1220/1228/K/lb,305/1195/1208/R/lb,305/1150/1192/E/lr,305/1092/1145/A/lk,305/1020/1087/D/lr,305/825/1015/P/lk,
      368/1241/1248/E/lk,368/1215/1240/G/lg,368/1170/1207/A/lk,368/1050/1165/P/lk,368/925/1045/T/lg,368/773/922/S/lg,
      431/1240/1248/N/ln,431/1225/1240/R/lr,431/1210/1222/E/lk,431/1017/1205/R/lb,431/537/1012/G/lg,
      494/1218/1245/C/lg,494/1173/1213/L/lk,494/1098/1170/S/lg,494/1010/1092/V/lk,494/668/1005/T/lg,
      557/215/1248/G/lg,619/215/1248/K/lb,682/897/1248/S/lg,682/463/892/T/lg,
      802/1177/1248/A/lk,802/352/1172/G/lg,
      865/1236/1248/N/ln,865/1226/1235/K/lb,865/1212/1225/T/lk,865/1200/1210/Y/lg,865/1185/1198/K/lb,865/1150/1182/D/lr,865/1108/1147/A/lk,865/1058/1103/E/lr,865/852/1053/P/lk,
      928/1240/1248/N/ln,928/1222/1232/V/lg,928/1198/1215/A/lk,928/1180/1190/E/lr,928/1090/1175/P/lk,928/1000/1085/S/lg,928/868/995/T/lg,
      991/1240/1248/A/lk,991/1222/1235/K/lb,991/1208/1220/M/lk,991/1188/1205/V/lk,991/1152/1183/P/lk,991/988/1148/R/lb,991/735/983/G/lg,
      1053/1240/1248/I/lr,1053/1222/1238/R/lb,1053/1208/1220/M/lk,1053/1195/1205/F/lk,1053/1178/1192/V/lk,1053/1158/1175/S/lg,1053/1113/1153/L/lk,1053/1040/1108/C/lg,1053/908/1035/T/lg,
      1116/247/1248/G/lg,1179/247/1248/K/lb,1242/883/1248/T/lg,1242/497/878/S/lg}{
      \pgfmathsetlengthmacro{\lh}{(\yb-\yt)*.007337cm}
      \node (lett-\i) [anchor=south,inner sep=0pt,text=\cc,font=\sffamily\bfseries] at (\lx,\yb) {\resizebox{.5cm}{\lh}{\ch}};
    }
    \node (logochem) [plottext=5.4] at (492,1398) {chemistry};
    \foreach \sx/\cc/\tx/\tl [count=\i] in {545/lr/582/Acidic,636/lb/672/Basic,722/lk/759/Hydrophobic,860/ln/897/Neutral,960/lg/997/Polar}{
      \fill[\cc] (\sx,1384) rectangle (\sx+27,1412);
      \node (logoleg-\i) [plottext=4.5,anchor=west] at (\tx,1398) {\tl};
    }
  \end{scope}

  % gene map
  \begin{scope}[shift={(5350,4200)},xscale=1.116,yscale=1.084]
    \node (genelab) [plottext=9.5,rotate=90] at (100,640) {Sequnce name};
    \foreach \yr/\nm/\xa [count=\i] in {131/Corchor/457,277/Corchorus_yellow/457,422/Cowpea/448,568/Macroptilium/448,713/Merremia/375,858/Rhynchosia/448,1005/Soybean/448,1150/Sweet/448}{
      \draw[linkgrey,line width=1.8pt] (333,\yr) -- (1437,\yr);
      \node (genename-\i) [plottext=7.5,anchor=east,text=axisgrey] at (320,\yr) {\nm};
      \genearrow{383}{611}{\yr}{geneteal}
      \genearrow{917}{1145}{\yr}{geneyellow}
      \genearrow{1158}{1387}{\yr}{genepurple}
      \draw[black!80,line width=.9pt] (333,\yr+47) -- (1437,\yr+47);
      \foreach \tk [count=\j from 0] in {100,150,200,250,300}{
        \draw[black!80,line width=.5pt] ({\xa+\j*227.7},\yr+47) -- ({\xa+\j*227.7},\yr+52);
        \node (genetick-\i-\tk) [plottext=7.5,text=axisgrey] at ({\xa+\j*227.7},\yr+70) {\tk};
      }
    }
    \filldraw[fill=geneteal,draw=black,line width=.5pt] (493,1285) rectangle (533,1325);
    \filldraw[fill=geneyellow,draw=black,line width=.5pt] (493,1349) rectangle (533,1389);
    \filldraw[fill=genepurple,draw=black,line width=.5pt] (493,1413) rectangle (533,1453);
    \node (motifs) [plottext=9.5,anchor=east] at (473,1369) {Motifs};
    \node (motifseq-1) [plottext=7.7,anchor=west] at (552,1305) {HFHPNIQGAKSSSDVKSYIEKDGDTJEWGEFQIDGRSARGGQQSANDAYA};
    \node (motifseq-2) [plottext=7.7,anchor=west] at (552,1369) {NVMDSAARPDRPISIIIEGPSRTGKTIWARSLGPHNYLCGHLDLSPKVYS};
    \node (motifseq-3) [plottext=7.7,anchor=west] at (552,1433) {WYNVIDDVDPHYLKHFKEFMGAQRDWQSNCKYGKPIQIKGGIPTIFLCNP};
  \end{scope}

  % gc heatmap
  \begin{scope}[shift={(5400,5950)},xscale=1.0523,yscale=.574]
    \foreach \cc [count=\i from 0] in {A2D49E,ABD795,ABD795,B8DB8F,D5DE80,F7C066,F7974F,F77C44,F13C2A,F13C2A,F77C44}{
      \definecolor{heatc}{HTML}{\cc}
      \fill[heatc] ({146+\i*95.55},300) rectangle ({146+(\i+1)*95.55},554);
    }
    \fill[heatv] (146,554) rectangle (1197,811);
    \fill[heatr] (146,811) rectangle (1197,1067);
    \draw[black!45,line width=.25pt] (241,300) -- (241,1067) (336,300) -- (336,1067) (432,300) -- (432,1067) (623,300) -- (623,1067)
      (814,300) -- (814,1067) (1005,554) -- (1005,1067) (146,554) -- (1197,554) (146,1067) -- (1197,1067);
    \foreach \yr/\nm in {428/Virus_1,683/Virus_2,940/Virus_3}{
      \draw[black,line width=.5pt] (141,\yr) -- (146,\yr);
      \node (heat\nm) [heattext=4,rotate=90] at (128,\yr) {\nm};
    }
    \node (heatseq) [heattext=4,rotate=90] at (110,683) {Sequences};
    \node (heatx-0) [plottext=5] at (194,1094) {0};
    \node (heatx-1) [plottext=5] at (1149,1094) {10};
    \draw[black,line width=.4pt] (194,1067) -- (194,1078) (1149,1067) -- (1149,1078);
    \node (heatxl) [plottext=5] at (670,1129) {Genomic Position (bp)};
    \node (heatavg) [plottext=5.4,font=\sffamily\bfseries\fontsize{5.4}{5.4}\selectfont] at (1341,162) {Avg. \%G+C};
    \node (heatp-1) [plottext=5,anchor=west] at (1387,426) {72.73\%};
    \node (heatp-2) [plottext=5,anchor=west] at (1387,682) {0.00\%};
    \node (heatp-3) [plottext=5,anchor=west] at (1387,937) {100.00\%};
    \foreach \xa/\xb/\ca/\cb in {146/250/heatv/barb,249/330/barb/barc,329/420/barc/bard,419/560/bard/bare,559/720/bare/barf,719/830/barf/barg,829/925/barg/barh,924/1040/barh/bari,1039/1197/bari/heatr}
      \shade[left color=\ca,right color=\cb] (\xa,1230) rectangle (\xb,1328);
    \foreach \tk [count=\i] in {0,20,40,60,80,100}{
      \draw[black,line width=.4pt] ({146+\tk*10.51},1328) -- ({146+\tk*10.51},1338);
      \node (barx-\i) [plottext=5] at ({146+\tk*10.51},1355) {\tk};
    }
  \end{scope}
\end{tikzpicture}
\end{document}
